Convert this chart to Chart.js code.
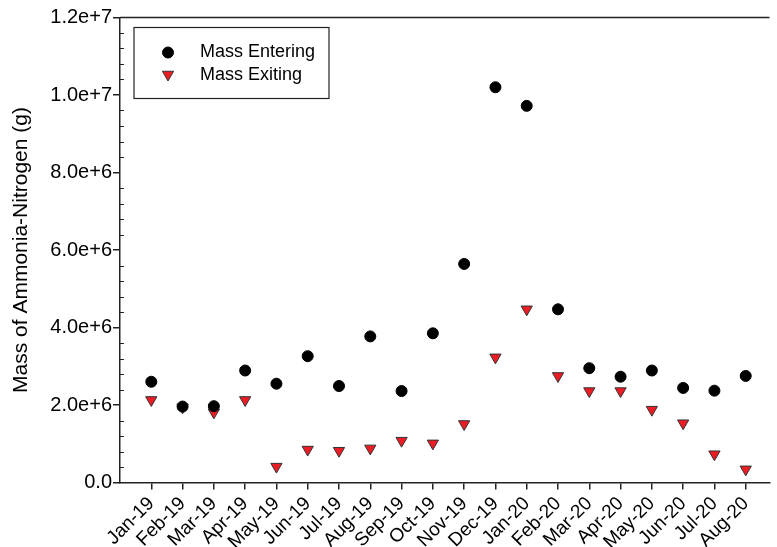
<!DOCTYPE html>
<html>
<head>
<meta charset="utf-8">
<script src="https://cdn.jsdelivr.net/npm/chart.js@4"></script>
<style>
  html, body { margin: 0; padding: 0; background: #fff; }
  #wrap { width: 777px; height: 547px; }
</style>
</head>
<body>
<div id="wrap"><canvas id="myChart" width="777" height="547"></canvas></div>
<script>
// monthly ammonia-nitrogen mass balance
const months = ['Jan-19', 'Feb-19', 'Mar-19', 'Apr-19', 'May-19', 'Jun-19', 'Jul-19', 'Aug-19',
    'Sep-19', 'Oct-19', 'Nov-19', 'Dec-19', 'Jan-20', 'Feb-20', 'Mar-20', 'Apr-20',
    'May-20', 'Jun-20', 'Jul-20', 'Aug-20'];

const massEntering = [2.60e6, 1.96e6, 1.97e6, 2.89e6, 2.55e6, 3.26e6, 2.49e6, 3.77e6,
    2.36e6, 3.85e6, 5.64e6, 10.2e6, 9.72e6, 4.47e6, 2.95e6, 2.73e6,
    2.89e6, 2.44e6, 2.37e6, 2.75e6];

const massExiting = [2.13e6, 1.94e6, 1.81e6, 2.13e6, 0.41e6, 0.85e6, 0.82e6, 0.88e6,
    1.08e6, 1.01e6, 1.51e6, 3.23e6, 4.47e6, 2.75e6, 2.36e6, 2.36e6,
    1.88e6, 1.53e6, 0.73e6, 0.34e6];

const yTicks = [0, 2e6, 4e6, 6e6, 8e6, 1e7, 1.2e7];

const FONT = '"Liberation Sans", Arial, sans-serif';
const AXIS = '#222';
const RED = '#ec1c24';

const enteringStyle = { pointStyle: 'circle', radius: 5.5, rotation: 0, borderWidth: 1, backgroundColor: '#000', borderColor: '#000' };
const exitingStyle = { pointStyle: 'triangle', radius: 6.5, rotation: 180, borderWidth: 1, backgroundColor: RED, borderColor: '#333' };

function legendMarker(ctx, style, x, y) {
    ctx.fillStyle = style.backgroundColor;
    ctx.strokeStyle = style.borderColor;
    ctx.lineWidth = style.borderWidth;
    Chart.helpers.drawPoint(ctx, style, x, y);
}

// frame line on top, minor ticks on y axis, and the boxed legend
const extras = {
    id: 'extras',
    afterDraw(chart) {
        const ctx = chart.ctx;
        const area = chart.chartArea;
        const y = chart.scales.y;
        ctx.save();
        ctx.strokeStyle = AXIS;
        ctx.lineWidth = 1.5;
        ctx.beginPath();
        ctx.moveTo(area.left, area.top);
        ctx.lineTo(area.right, area.top);
        ctx.stroke();

        // minor ticks every 4e5, pointing inward
        ctx.lineWidth = 1;
        for (let v = 4e5; v < 1.2e7; v += 4e5) {
            if (Math.abs(v / 2e6 - Math.round(v / 2e6)) < 1e-6) continue;
            const py = Math.round(y.getPixelForValue(v)) + 0.5;
            ctx.beginPath();
            ctx.moveTo(area.left, py);
            ctx.lineTo(area.left + 4, py);
            ctx.stroke();
        }

        // legend
        const lx = area.left + 14, ly = area.top + 10;
        ctx.lineWidth = 1.2;
        ctx.strokeStyle = AXIS;
        ctx.strokeRect(lx, ly, 195, 71);
        legendMarker(ctx, enteringStyle, lx + 34, ly + 25);
        legendMarker(ctx, exitingStyle, lx + 34, ly + 47);
        ctx.fillStyle = '#000';
        ctx.font = '18px ' + FONT;
        ctx.textBaseline = 'middle';
        ctx.fillText('Mass Entering', lx + 66, ly + 25);
        ctx.fillText('Mass Exiting', lx + 66, ly + 48);
        ctx.restore();
    }
};

function renderChart() {
    const ctx = document.getElementById('myChart').getContext('2d');

    new Chart(ctx, {
        type: 'scatter',
        data: {
            datasets: [{
                label: 'Mass Entering',
                data: massEntering.map((v, i) => ({ x: i, y: v })),
                pointStyle: 'circle',
                pointRadius: enteringStyle.radius,
                pointBackgroundColor: '#000',
                pointBorderColor: '#000',
                pointBorderWidth: 1
            }, {
                label: 'Mass Exiting',
                data: massExiting.map((v, i) => ({ x: i, y: v })),
                pointStyle: 'triangle',
                pointRotation: 180,
                pointRadius: exitingStyle.radius,
                pointBackgroundColor: RED,
                pointBorderColor: '#333',
                pointBorderWidth: 1
            }]
        },
        options: {
            responsive: false,
            animation: false,
            layout: { padding: { top: 17.5, right: 0, left: 0, bottom: 0 } },
            plugins: {
                legend: { display: false },
                tooltip: { enabled: false }
            },
            scales: {
                x: {
                    type: 'linear',
                    min: -1,
                    max: 19.76,
                    afterBuildTicks: (scale) => { scale.ticks = months.map((m, i) => ({ value: i })); },
                    afterFit: (scale) => { scale.height = 64.5; },
                    border: { display: true, color: AXIS, width: 1.5 },
                    grid: { drawOnChartArea: false, tickLength: 7, color: AXIS, lineWidth: 1.5 },
                    ticks: {
                        autoSkip: false,
                        minRotation: 45,
                        maxRotation: 45,
                        padding: 3,
                        color: '#000',
                        font: { family: FONT, size: 19 },
                        callback: (v) => months[v]
                    }
                },
                y: {
                    min: 0,
                    max: 1.2e7,
                    afterBuildTicks: (scale) => { scale.ticks = yTicks.map(v => ({ value: v })); },
                    afterFit: (scale) => { scale.width = 120; },
                    border: { display: true, color: AXIS, width: 1.5 },
                    grid: { drawOnChartArea: false, tickLength: 7, color: AXIS, lineWidth: 1.5 },
                    ticks: {
                        padding: 1,
                        color: '#000',
                        font: { family: FONT, size: 20 },
                        callback: (v) => v === 0 ? '0.0' : v.toExponential(1)
                    },
                    title: {
                        display: true,
                        text: 'Mass of Ammonia-Nitrogen (g)',
                        color: '#000',
                        font: { family: FONT, size: 21 },
                        padding: { top: 9, bottom: 0 }
                    }
                }
            }
        },
        plugins: [extras]
    });
}

renderChart();
</script>
</body>
</html>
